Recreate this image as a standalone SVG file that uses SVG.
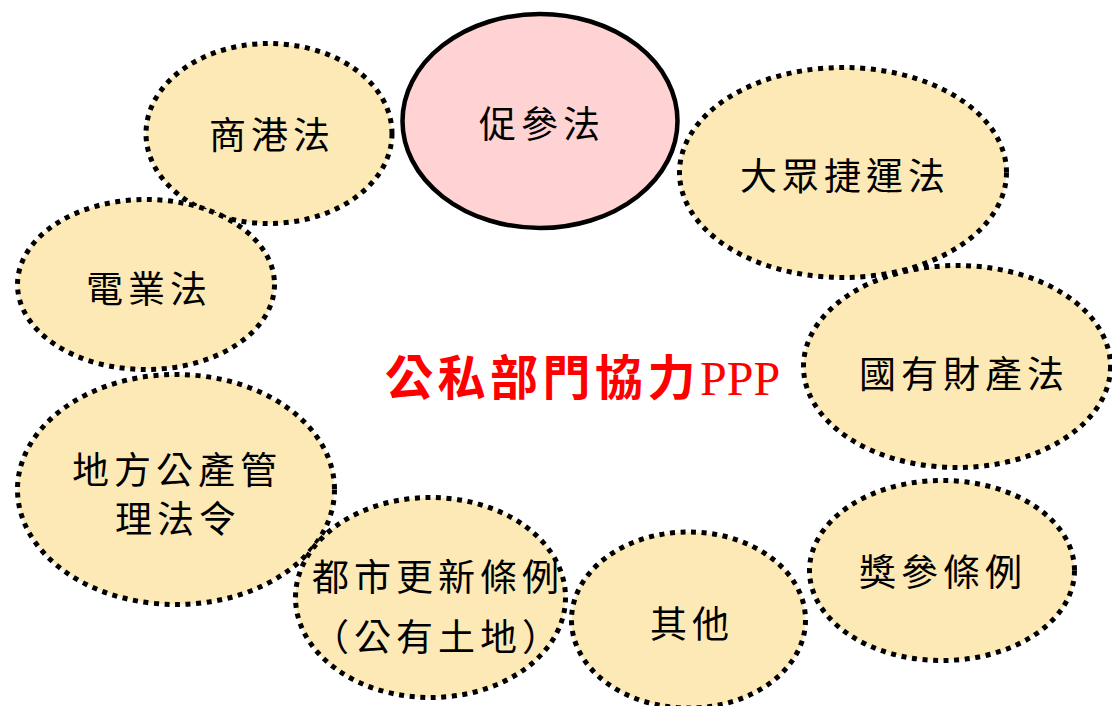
<svg xmlns="http://www.w3.org/2000/svg" width="1112" height="706" viewBox="0 0 1112 706">
<style>
.n { fill: #FCE9B6; stroke: #000; stroke-width: 5; stroke-dasharray: 5 5.6; stroke-linecap: butt; }
.main { fill: #FFD3D3; stroke: #000; stroke-width: 4.5; }
.t { font-family: "Noto Sans CJK TC", "Noto Sans CJK SC", sans-serif; font-size: 37px; letter-spacing: 5px; fill: #000; text-anchor: middle; dominant-baseline: central; }
.title { font-family: "Noto Sans CJK TC", "Noto Sans CJK SC", sans-serif; font-size: 48px; letter-spacing: 4.5px; fill: #FF0000; font-weight: bold; }
.ppp { font-family: "Liberation Serif", "Times New Roman", serif; letter-spacing: 0; font-weight: normal; }
</style>
<rect width="1112" height="706" fill="#FFFFFF"/>
<g id="node-shanggang">
<ellipse class="n" cx="269" cy="133.5" rx="123" ry="90"/>
<text class="t" x="272" y="133">商港法</text>
</g>
<g id="node-dianye">
<ellipse class="n" cx="146" cy="284.5" rx="128.5" ry="85"/>
<text class="t" x="149" y="287">電業法</text>
</g>
<g id="node-cucan">
<ellipse class="main" cx="540" cy="121" rx="137.5" ry="107"/>
<text class="t" x="542" y="122">促參法</text>
</g>
<g id="node-jieyun">
<ellipse class="n" cx="843" cy="172.5" rx="163.5" ry="105"/>
<text class="t" x="845" y="174">大眾捷運法</text>
</g>
<g id="node-guoyou">
<ellipse class="n" cx="957" cy="366.5" rx="153.5" ry="101"/>
<text class="t" x="964" y="372">國有財產法</text>
</g>
<g id="node-difang">
<ellipse class="n" cx="176" cy="489.5" rx="158.5" ry="115"/>
<text class="t" x="177" y="468">地方公產管</text>
<text class="t" x="178" y="517">理法令</text>
</g>
<g id="node-dugeng">
<ellipse class="n" cx="430.5" cy="597.5" rx="135" ry="100"/>
<text class="t" x="438" y="575">都市更新條例</text>
<text class="t" x="438" y="635">（公有土地）</text>
</g>
<g id="node-qita">
<ellipse class="n" cx="688.5" cy="620" rx="117" ry="88"/>
<text class="t" x="692" y="622">其他</text>
</g>
<g id="node-jiangcan">
<ellipse class="n" cx="942" cy="570.5" rx="132.5" ry="90"/>
<text class="t" x="943" y="570">獎參條例</text>
</g>
<g id="title">
<text class="title" x="385" y="395">公私部門協力<tspan class="ppp">PPP</tspan></text>
</g>
</svg>
